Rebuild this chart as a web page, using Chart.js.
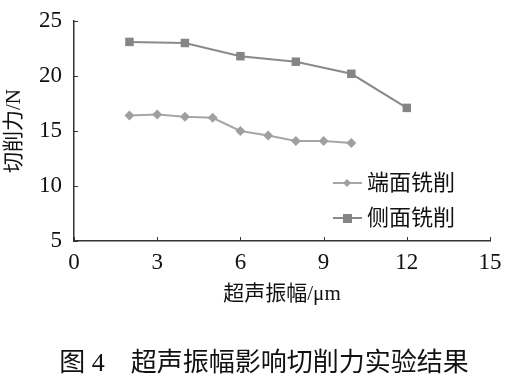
<!DOCTYPE html>
<html>
<head>
<meta charset="utf-8">
<script src="https://cdn.jsdelivr.net/npm/chart.js@4"></script>
<style>
  html, body { margin: 0; padding: 0; background: #fff; }
  #wrap { width: 505px; height: 386px; }
</style>
</head>
<body>
<div id="wrap"><canvas id="chart" width="505" height="386"></canvas></div>
<script>
const endX = [2, 3, 4, 5, 6, 7, 8, 9, 10];
const endForce = [16.4, 16.5, 16.3, 16.2, 15.0, 14.6, 14.1, 14.1, 13.9];
const sideX = [2, 4, 6, 8, 10, 12];
const sideForce = [23.1, 23.0, 21.8, 21.3, 20.2, 17.1];
const xTicks = [0, 3, 6, 9, 12, 15];
const yTicks = [5, 10, 15, 20, 25];
const seriesNames = ["端面铣削", "侧面铣削"];

const FONT = "'Liberation Serif', 'Noto Sans CJK SC', serif";
const AXIS = "#333";

// inward tick marks + legend + caption
const extras = {
  id: "extras",
  afterDraw(chart) {
    const ctx = chart.ctx;
    const xs = chart.scales.x, ys = chart.scales.y;
    const a = chart.chartArea;
    ctx.save();
    ctx.strokeStyle = AXIS;
    ctx.lineWidth = 1;
    xTicks.forEach(v => {
      const px = Math.round(xs.getPixelForValue(v)) + 0.5;
      ctx.beginPath(); ctx.moveTo(px, a.bottom); ctx.lineTo(px, a.bottom - 4); ctx.stroke();
    });
    yTicks.forEach(v => {
      const py = Math.round(ys.getPixelForValue(v)) + 0.5;
      ctx.beginPath(); ctx.moveTo(a.left, py); ctx.lineTo(a.left + 4, py); ctx.stroke();
    });

    // legend
    chart.data.datasets.forEach((ds, i) => {
      const y = 183 + i * 35;
      ctx.strokeStyle = ds.borderColor;
      ctx.lineWidth = 2;
      ctx.beginPath(); ctx.moveTo(333, y); ctx.lineTo(362, y); ctx.stroke();
      ctx.fillStyle = ds.pointBackgroundColor;
      if (ds.pointStyle === "rectRot") {
        ctx.beginPath();
        ctx.moveTo(347, y - 4); ctx.lineTo(351, y); ctx.lineTo(347, y + 4); ctx.lineTo(343, y);
        ctx.closePath(); ctx.fill();
      } else {
        ctx.fillRect(343, y - 4, 9, 9);
      }
      ctx.fillStyle = "#111";
      ctx.font = "22px " + FONT;
      ctx.textBaseline = "middle";
      ctx.textAlign = "left";
      ctx.fillText(ds.label, 367, y + 1);
    });

    // caption
    ctx.fillStyle = "#111";
    ctx.font = "26px " + FONT;
    ctx.textAlign = "center";
    ctx.textBaseline = "middle";
    ctx.fillText("图 4　超声振幅影响切削力实验结果", 264, 364);
    ctx.restore();
  }
};

new Chart(document.getElementById("chart"), {
  type: "scatter",
  data: {
    datasets: [
      {
        label: seriesNames[0],
        data: endX.map((x, i) => ({ x, y: endForce[i] })),
        showLine: true,
        borderColor: "#a6a6a6",
        borderWidth: 2,
        pointStyle: "rectRot",
        pointRadius: 5,
        pointBackgroundColor: "#a0a0a0",
        pointBorderWidth: 0
      },
      {
        label: seriesNames[1],
        data: sideX.map((x, i) => ({ x, y: sideForce[i] })),
        showLine: true,
        borderColor: "#8a8a8a",
        borderWidth: 2,
        pointStyle: "rect",
        pointRadius: 6,
        pointBackgroundColor: "#858585",
        pointBorderWidth: 0
      }
    ]
  },
  options: {
    responsive: false,
    animation: false,
    layout: { padding: { top: 21, right: 15, bottom: 75, left: 0 } },
    plugins: { legend: { display: false }, tooltip: { enabled: false } },
    scales: {
      x: {
        type: "linear",
        min: 0, max: 15,
        afterBuildTicks: s => { s.ticks = xTicks.map(v => ({ value: v })); },
        afterFit: s => { s.height = 70; },
        grid: { display: false },
        border: { display: true, color: AXIS, width: 1.5 },
        ticks: { color: "#111", font: { family: FONT, size: 23 }, padding: 0, maxRotation: 0 },
        title: { display: true, text: "超声振幅/μm", color: "#111", font: { family: FONT, size: 21 }, padding: { top: 2 } }
      },
      y: {
        min: 5, max: 25,
        afterBuildTicks: s => { s.ticks = yTicks.map(v => ({ value: v })); },
        afterFit: s => { s.width = 74; },
        grid: { display: false },
        border: { display: true, color: AXIS, width: 1.5 },
        ticks: { color: "#111", font: { family: FONT, size: 23 }, padding: 4 },
        title: { display: true, text: "切削力/N", color: "#111", font: { family: FONT, size: 21 }, padding: { top: 2, bottom: 2 } }
      }
    }
  },
  plugins: [extras]
});
</script>
</body>
</html>
